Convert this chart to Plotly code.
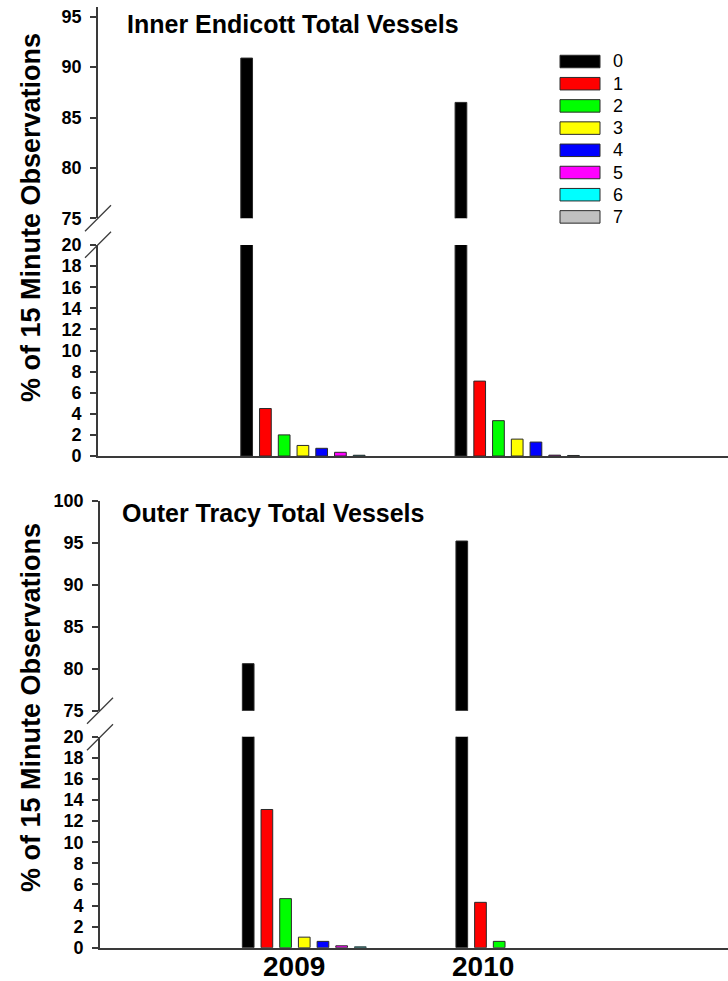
import plotly.graph_objects as go

# ---- data -------------------------------------------------------------
years = ["2009", "2010"]
vessel_counts = ["0", "1", "2", "3", "4", "5", "6", "7"]
bar_colors = ["#000000", "#ff0000", "#00ff00", "#ffff00",
              "#0000ff", "#ff00ff", "#00ffff", "#c0c0c0"]

# % of 15-minute observations by number of vessels present, [2009, 2010]
endicott = {
    "0": [90.9, 86.5],
    "1": [4.5, 7.1],
    "2": [2.0, 3.35],
    "3": [1.0, 1.6],
    "4": [0.73, 1.32],
    "5": [0.35, 0.08],
    "6": [0.07, 0.05],
    "7": [0.0, 0.0],
}
tracy = {
    "0": [80.6, 95.2],
    "1": [13.1, 4.3],
    "2": [4.65, 0.6],
    "3": [1.0, 0.0],
    "4": [0.6, 0.0],
    "5": [0.18, 0.0],
    "6": [0.08, 0.0],
    "7": [0.0, 0.0],
}
panel_titles = ["Inner Endicott Total Vessels", "Outer Tracy Total Vessels"]
y_title = "% of 15 Minute Observations"

# ---- layout helpers (pixel -> paper) -----------------------------------
W, H = 728, 981
def fx(px):
    return px / W
def fy(py):
    return 1 - py / H

AXIS_COL = "#3a3a3a"
FONT = "Liberation Sans, Arial, sans-serif"
X_RANGE = [-1.0, 1.94]
YEAR_LABEL_X = [-0.09, 0.795]

fig = go.Figure()

# each panel is split into a lower (0-20) and an upper (75-top) segment
panels = [
    dict(data=endicott, lower=("x", "y"), upper=("x2", "y2")),
    dict(data=tracy, lower=("x3", "y3"), upper=("x4", "y4")),
]
for p in panels:
    for seg in ("lower", "upper"):
        xa, ya = p[seg]
        for name, col in zip(vessel_counts, bar_colors):
            vals = p["data"][name]
            # no outline on empty bars so nothing is drawn for them
            widths = [1 if v > 0 else 0 for v in vals]
            fig.add_trace(go.Bar(
                x=[0, 1], y=vals, name=name,
                marker=dict(color=col, line=dict(color="#2a2a2a", width=widths)),
                xaxis=xa, yaxis=ya, showlegend=False,
                offsetgroup=name,
            ))

ytick_font = dict(family=FONT, size=18, color="black", weight="bold")

def yaxis(domain_px, rng, dtick):
    return dict(
        domain=[fy(domain_px[1]), fy(domain_px[0])], range=rng,
        dtick=dtick, tick0=0, showgrid=False, zeroline=False,
        showline=True, linecolor=AXIS_COL, linewidth=1.8,
        ticks="outside", ticklen=6, tickwidth=1.5, tickcolor=AXIS_COL,
        tickfont=ytick_font, ticklabelstandoff=5, automargin=False,
    )

def xaxis(left_px, anchor, visible, **kw):
    d = dict(domain=[fx(left_px), 1], range=X_RANGE, anchor=anchor,
             showgrid=False, zeroline=False, fixedrange=True,
             automargin=False)
    if visible:
        d.update(showline=True, linecolor=AXIS_COL, linewidth=1.8, ticks="",
                 showticklabels=False)
    else:
        d.update(visible=False)
    d.update(kw)
    return d

fig.update_layout(
    width=W, height=H, margin=dict(l=0, r=0, t=0, b=0, pad=0),
    paper_bgcolor="white", plot_bgcolor="white",
    barmode="group", bargap=0.30, bargroupgap=0.375,
    showlegend=False,
    xaxis=xaxis(98, "y", True),
    xaxis2=xaxis(98, "y2", False, matches="x"),
    xaxis3=xaxis(100, "y3", True),
    xaxis4=xaxis(100, "y4", False, matches="x3"),
    yaxis=dict(yaxis((245, 456), [0, 20], 2), anchor="x"),
    yaxis2=dict(yaxis((6.7, 218.3), [75, 96], 5), anchor="x2"),
    yaxis3=dict(yaxis((736.7, 947.7), [0, 20], 2), anchor="x3"),
    yaxis4=dict(yaxis((500.7, 710.7), [75, 100], 5), anchor="x4"),
)

shapes, annotations = [], []

# year labels under the bottom panel's category axis
for yr, xv in zip(years, YEAR_LABEL_X):
    annotations.append(dict(text=yr, xref="x3", yref="paper",
                            x=xv, y=fy(966), xanchor="center",
                            yanchor="middle", showarrow=False,
                            font=dict(family=FONT, size=28, color="black",
                                      weight="bold")))

# axis break marks (two parallel slashes per panel)
for top_slash_y, x0 in ((218.3, 98), (710.7, 100)):
    for dy in (0, 26.5):
        cy = top_slash_y + dy
        shapes.append(dict(type="line", xref="paper", yref="paper",
                           x0=fx(x0 - 13), y0=fy(cy + 13),
                           x1=fx(x0 + 13), y1=fy(cy - 13),
                           line=dict(color=AXIS_COL, width=1.3)))

# panel titles
for title, (tx, ty) in zip(panel_titles, ((125, 24), (120, 513))):
    annotations.append(dict(text=title, xref="paper", yref="paper",
                            x=fx(tx), y=fy(ty), xanchor="left", yanchor="middle",
                            showarrow=False,
                            font=dict(family=FONT, size=25, color="black",
                                      weight="bold")))

# rotated y-axis titles
for cy in (218, 708):
    annotations.append(dict(text=y_title, xref="paper", yref="paper",
                            x=fx(31), y=fy(cy), xanchor="center",
                            yanchor="middle", textangle=-90, showarrow=False,
                            font=dict(family=FONT, size=27, color="black",
                                      weight="bold")))

# legend: wide swatches with labels to the right
LEG_X0, LEG_X1, LEG_Y0, LEG_DY, SW_H = 560, 600, 61.5, 22.2, 12.5
for i, (name, col) in enumerate(zip(vessel_counts, bar_colors)):
    cy = LEG_Y0 + i * LEG_DY
    shapes.append(dict(type="rect", xref="paper", yref="paper",
                       x0=fx(LEG_X0), x1=fx(LEG_X1),
                       y0=fy(cy + SW_H / 2), y1=fy(cy - SW_H / 2),
                       fillcolor=col, line=dict(color="#2a2a2a", width=1)))
    annotations.append(dict(text=name, xref="paper", yref="paper",
                            x=fx(LEG_X1 + 11), y=fy(cy), xanchor="left",
                            yanchor="middle", showarrow=False,
                            font=dict(family=FONT, size=18, color="black")))

fig.update_layout(shapes=shapes, annotations=annotations)
fig.write_html("out.html")
